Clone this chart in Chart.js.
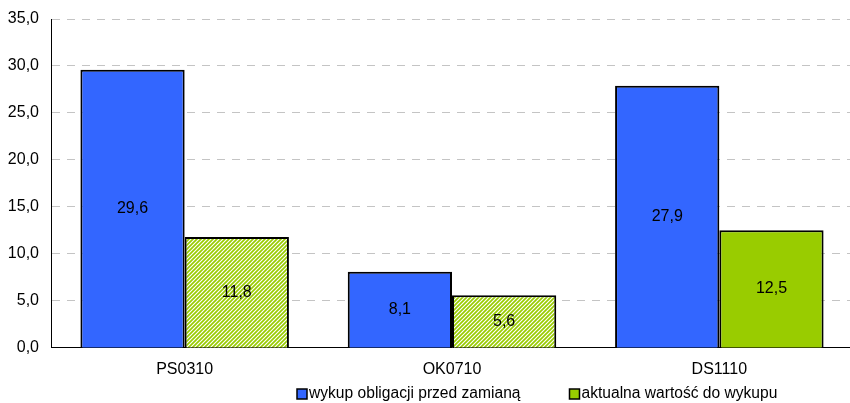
<!DOCTYPE html>
<html>
<head>
<meta charset="utf-8">
<script src="https://cdn.jsdelivr.net/npm/chart.js@4"></script>
<style>
  html, body { margin: 0; padding: 0; background: #fff; overflow: hidden; }
  #wrap { width: 850px; height: 403px; overflow: hidden; }
</style>
</head>
<body>
<div id="wrap"><canvas id="c" width="853" height="403"></canvas></div>
<script>
const categories = ['PS0310', 'OK0710', 'DS1110'];
const beforeSwap = [29.6, 8.1, 27.9];
const currentValue = [11.8, 5.6, 12.5];
const seriesNames = ['wykup obligacji przed zamianą', 'aktualna wartość do wykupu'];
const yTicks = [0, 5, 10, 15, 20, 25, 30, 35];

const BLUE = '#3366FF';
const GREEN = '#99CC00';
const FONT = '"Liberation Sans", Arial, sans-serif';

// diagonal green/white stripes
function stripePattern(ctx) {
  const s = 4;
  const p = document.createElement('canvas');
  p.width = s; p.height = s;
  const g = p.getContext('2d');
  g.fillStyle = '#ffffff';
  g.fillRect(0, 0, s, s);
  g.strokeStyle = GREEN;
  g.lineWidth = 1.7;
  g.beginPath();
  g.moveTo(-1, s + 1); g.lineTo(s + 1, -1);
  g.moveTo(-1, 1); g.lineTo(1, -1);
  g.moveTo(s - 1, s + 1); g.lineTo(s + 1, s - 1);
  g.stroke();
  return ctx.createPattern(p, 'repeat');
}
const stripes = stripePattern(document.getElementById('c').getContext('2d'));

const fmt = v => v.toFixed(1).replace('.', ',');

// value written in the middle of each bar
const valueLabels = {
  id: 'valueLabels',
  afterDatasetsDraw(chart) {
    const ctx = chart.ctx;
    ctx.save();
    ctx.font = '16px ' + FONT;
    ctx.fillStyle = '#000';
    ctx.textAlign = 'center';
    ctx.textBaseline = 'middle';
    chart.data.datasets.forEach((ds, i) => {
      chart.getDatasetMeta(i).data.forEach((bar, j) => {
        const y = (bar.y + bar.base) / 2;
        ctx.fillText(fmt(ds.data[j]), bar.x, y);
      });
    });
    ctx.restore();
  }
};

// legend row under the category labels
const bottomLegend = {
  id: 'bottomLegend',
  afterDraw(chart) {
    const ctx = chart.ctx;
    const colors = [BLUE, GREEN];
    ctx.save();
    ctx.font = '15.6px ' + FONT;
    ctx.textBaseline = 'middle';
    ctx.textAlign = 'left';
    let x = 297;
    const yMid = 394;
    seriesNames.forEach((name, i) => {
      ctx.fillStyle = colors[i];
      ctx.fillRect(x, yMid - 5, 10, 10);
      ctx.strokeStyle = '#000';
      ctx.lineWidth = 1.5;
      ctx.strokeRect(x, yMid - 5, 10, 10);
      ctx.fillStyle = '#000';
      ctx.fillText(name, x + 12, yMid);
      x += 12 + ctx.measureText(name).width + 49;
    });
    ctx.restore();
  }
};

new Chart(document.getElementById('c'), {
  type: 'bar',
  data: {
    labels: categories,
    datasets: [
      {
        label: seriesNames[0],
        data: beforeSwap,
        backgroundColor: BLUE,
        borderColor: '#000',
        borderWidth: 2,
        borderSkipped: 'bottom'
      },
      {
        label: seriesNames[1],
        data: currentValue,
        backgroundColor: [stripes, stripes, GREEN],
        borderColor: '#000',
        borderWidth: 2,
        borderSkipped: 'bottom'
      }
    ]
  },
  options: {
    responsive: false,
    animation: false,
    layout: { padding: { top: 19, right: 0, left: 0, bottom: 12 } },
    datasets: { bar: { categoryPercentage: 0.78, barPercentage: 1.0 } },
    scales: {
      x: {
        grid: { display: false, drawTicks: false },
        border: { color: '#000', width: 1 },
        ticks: {
          color: '#000',
          padding: 12,
          font: { family: FONT, size: 16 }
        }
      },
      y: {
        min: 0, max: 35,
        afterFit(scale) { scale.width = 51; scale.paddingTop = 0; },
        afterBuildTicks(axis) { axis.ticks = yTicks.map(v => ({ value: v })); },
        grid: {
          color: '#c4c4c4',
          drawTicks: false,
          lineWidth: ctx => ctx.tick && ctx.tick.value === 0 ? 0 : 1
        },
        border: { color: '#000', width: 1, dash: [8, 7] },
        ticks: {
          color: '#000',
          padding: 12,
          callback: v => fmt(v),
          font: { family: FONT, size: 16 }
        }
      }
    },
    plugins: {
      legend: { display: false },
      tooltip: { enabled: false }
    }
  },
  plugins: [valueLabels, bottomLegend]
});
</script>
</body>
</html>
